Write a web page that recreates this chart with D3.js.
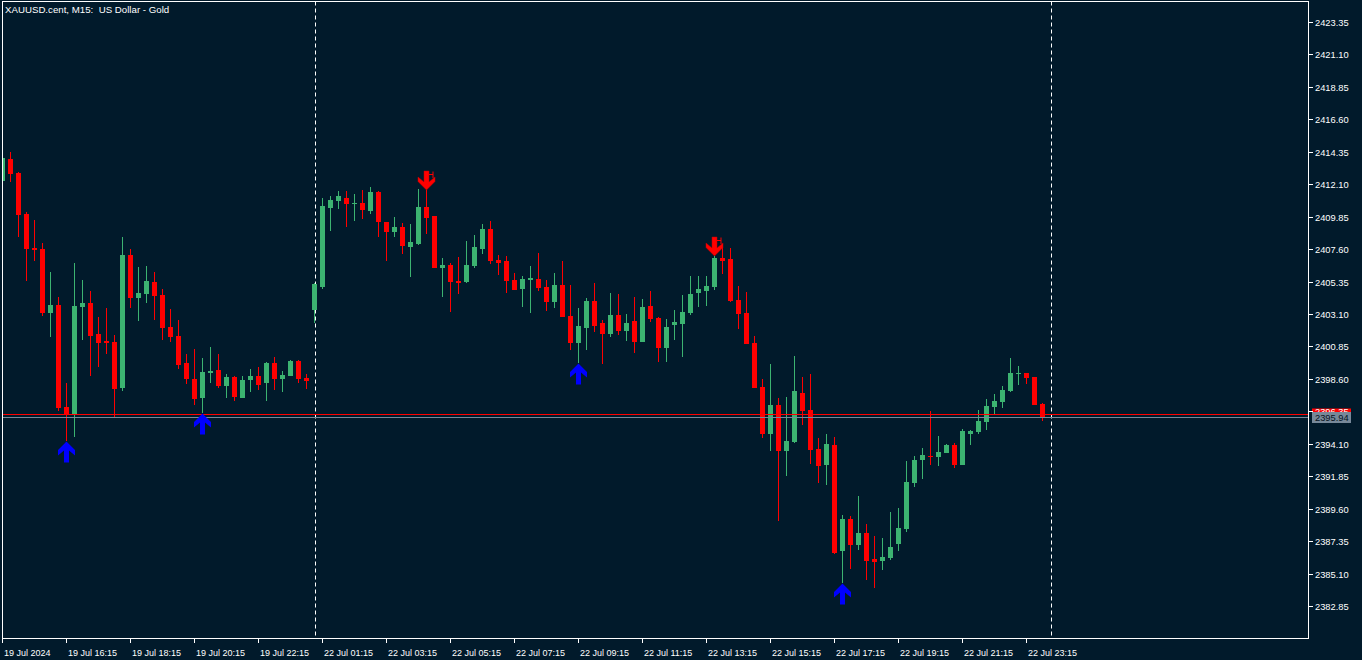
<!DOCTYPE html>
<html><head><meta charset="utf-8">
<script src="https://cdn.jsdelivr.net/npm/d3@7"></script>
<style>
html,body{margin:0;padding:0;background:#011a2b;overflow:hidden}
svg{display:block}
text{font-family:"Liberation Sans",Arial,sans-serif;fill:#ffffff}
</style>
</head><body><svg id="c" width="1362" height="660"></svg>
<script>
const title = "XAUUSD.cent, M15:  US Dollar - Gold";
const times = [
"19.07 14:15","19.07 14:30","19.07 14:45","19.07 15:00","19.07 15:15","19.07 15:30","19.07 15:45","19.07 16:00",
"19.07 16:15","19.07 16:30","19.07 16:45","19.07 17:00","19.07 17:15","19.07 17:30","19.07 17:45","19.07 18:00",
"19.07 18:15","19.07 18:30","19.07 18:45","19.07 19:00","19.07 19:15","19.07 19:30","19.07 19:45","19.07 20:00",
"19.07 20:15","19.07 20:30","19.07 20:45","19.07 21:00","19.07 21:15","19.07 21:30","19.07 21:45","19.07 22:00",
"19.07 22:15","19.07 22:30","19.07 22:45","19.07 23:00","19.07 23:15","19.07 23:30","19.07 23:45",
"22.07 01:00","22.07 01:15","22.07 01:30","22.07 01:45","22.07 02:00","22.07 02:15","22.07 02:30","22.07 02:45",
"22.07 03:00","22.07 03:15","22.07 03:30","22.07 03:45","22.07 04:00","22.07 04:15","22.07 04:30","22.07 04:45",
"22.07 05:00","22.07 05:15","22.07 05:30","22.07 05:45","22.07 06:00","22.07 06:15","22.07 06:30","22.07 06:45",
"22.07 07:00","22.07 07:15","22.07 07:30","22.07 07:45","22.07 08:00","22.07 08:15","22.07 08:30","22.07 08:45",
"22.07 09:00","22.07 09:15","22.07 09:30","22.07 09:45","22.07 10:00","22.07 10:15","22.07 10:30","22.07 10:45",
"22.07 11:00","22.07 11:15","22.07 11:30","22.07 11:45","22.07 12:00","22.07 12:15","22.07 12:30","22.07 12:45",
"22.07 13:00","22.07 13:15","22.07 13:30","22.07 13:45","22.07 14:00","22.07 14:15","22.07 14:30","22.07 14:45",
"22.07 15:00","22.07 15:15","22.07 15:30","22.07 15:45","22.07 16:00","22.07 16:15","22.07 16:30","22.07 16:45",
"22.07 17:00","22.07 17:15","22.07 17:30","22.07 17:45","22.07 18:00","22.07 18:15","22.07 18:30","22.07 18:45",
"22.07 19:00","22.07 19:15","22.07 19:30","22.07 19:45","22.07 20:00","22.07 20:15","22.07 20:30","22.07 20:45",
"22.07 21:00","22.07 21:15","22.07 21:30","22.07 21:45","22.07 22:00","22.07 22:15","22.07 22:30","22.07 22:45",
"22.07 23:00","22.07 23:15","22.07 23:30","22.07 23:45"];

const open = [2412.34,2413.85,2412.88,2410.03,2407.68,2407.61,2403.19,2403.73,2396.65,2396.15,
2403.59,2403.86,2401.71,2401.23,2401.16,2397.97,2407.19,2404.23,2404.51,2405.32,
2404.42,2402.20,2401.58,2399.70,2398.59,2397.30,2399.03,2399.22,2398.13,2398.73,
2397.30,2398.55,2398.80,2398.34,2399.70,2398.61,2398.82,2399.84,2398.66,2403.40,
2404.99,2410.47,2410.96,2411.14,2410.73,2410.80,2410.26,2411.56,2409.46,2408.81,
2409.13,2407.77,2407.96,2410.52,2409.90,2406.31,2406.50,2405.41,2405.34,2406.43,
2407.63,2409.00,2406.85,2406.78,2405.46,2404.83,2405.46,2405.53,2404.97,2403.95,
2405.11,2402.96,2401.11,2402.15,2404.00,2402.48,2401.73,2403.03,2401.94,2402.62,
2401.18,2403.66,2402.82,2400.76,2402.36,2402.43,2403.19,2404.58,2404.72,2404.99,
2406.98,2406.91,2404.07,2403.17,2401.09,2398.04,2394.80,2396.79,2393.62,2394.24,
2397.62,2396.44,2393.74,2392.65,2394.02,2386.69,2388.88,2387.10,2387.91,2386.11,
2385.97,2386.18,2387.15,2388.19,2391.38,2392.98,2393.25,2393.18,2393.46,2394.02,
2392.63,2394.78,2394.92,2395.61,2396.65,2397.00,2397.76,2398.94,2399.01,2398.73,
2396.86];
const high = [2414.20,2414.36,2412.95,2410.17,2409.62,2408.02,2406.01,2404.28,2398.34,2406.66,
2405.46,2404.72,2402.89,2403.52,2401.64,2408.44,2407.61,2406.36,2406.43,2406.01,
2404.83,2403.45,2402.69,2400.33,2400.67,2400.05,2400.81,2400.33,2398.94,2398.82,
2398.82,2399.29,2399.45,2399.77,2400.12,2399.15,2399.91,2399.91,2398.94,2405.25,
2411.14,2411.28,2411.63,2411.63,2411.42,2411.70,2411.91,2411.63,2409.46,2409.83,
2409.41,2409.34,2411.77,2411.70,2409.90,2406.98,2406.64,2407.05,2408.16,2408.58,
2409.34,2409.55,2407.19,2407.12,2405.94,2405.74,2406.43,2407.33,2405.46,2405.94,
2406.78,2405.11,2403.54,2404.21,2405.25,2402.69,2404.56,2404.49,2403.10,2404.28,
2404.14,2404.70,2402.91,2402.75,2403.38,2404.42,2405.74,2405.74,2405.74,2407.12,
2407.89,2407.68,2405.04,2404.63,2401.58,2398.59,2399.63,2397.28,2397.35,2400.19,
2398.73,2398.94,2394.50,2394.78,2394.57,2389.16,2389.09,2390.48,2388.54,2387.71,
2387.57,2389.37,2389.65,2392.91,2393.25,2393.81,2396.37,2394.64,2394.09,2394.15,
2395.13,2395.06,2396.44,2397.21,2397.55,2398.11,2400.05,2399.50,2399.01,2398.73,
2396.93];
const low = [2412.25,2412.28,2408.46,2405.41,2406.80,2402.98,2401.53,2396.39,2394.30,2394.59,
2401.30,2398.82,2399.45,2400.33,2395.98,2397.78,2403.54,2402.64,2403.88,2402.71,
2401.32,2401.18,2399.31,2398.27,2396.81,2396.25,2398.34,2397.99,2397.30,2397.09,
2397.30,2397.69,2397.85,2397.09,2397.85,2397.71,2398.82,2398.34,2397.92,2402.50,
2404.81,2408.88,2410.40,2409.15,2409.57,2409.71,2410.06,2408.46,2406.80,2408.46,
2407.28,2405.69,2407.89,2408.65,2406.29,2404.28,2403.26,2404.51,2405.27,2406.29,
2407.26,2406.57,2405.81,2404.56,2404.79,2403.59,2403.17,2404.70,2403.33,2403.54,
2402.91,2400.63,2399.68,2400.63,2401.88,2399.65,2401.53,2401.66,2401.25,2400.42,
2401.18,2402.57,2399.79,2399.79,2401.32,2400.14,2403.05,2403.61,2403.68,2404.79,
2405.89,2403.95,2402.08,2401.04,2397.99,2394.52,2393.62,2388.77,2391.89,2394.17,
2395.42,2392.72,2391.40,2391.26,2386.48,2384.43,2385.44,2386.76,2384.68,2384.12,
2385.35,2386.04,2386.67,2387.98,2391.10,2391.66,2392.63,2392.56,2393.46,2392.42,
2392.63,2394.02,2394.78,2395.06,2396.17,2396.58,2397.69,2398.18,2398.25,2396.79,
2395.68];
const close = [2413.94,2412.81,2409.99,2407.63,2407.54,2403.19,2403.73,2396.58,2396.15,2403.66,
2403.86,2401.58,2401.11,2401.11,2397.92,2407.19,2404.23,2404.56,2405.39,2404.37,
2402.15,2401.53,2399.59,2398.61,2397.23,2399.08,2399.15,2398.13,2398.73,2397.37,
2398.52,2398.80,2398.20,2399.70,2398.61,2398.87,2399.84,2398.61,2398.48,2405.18,
2410.59,2411.01,2411.28,2410.75,2410.80,2410.33,2411.56,2409.46,2408.81,2409.13,
2407.84,2408.09,2410.52,2409.78,2406.31,2406.52,2405.34,2405.27,2406.50,2407.75,
2409.00,2406.78,2406.64,2405.39,2404.79,2405.53,2405.60,2404.92,2403.95,2405.11,
2402.91,2401.11,2402.27,2404.00,2402.29,2401.73,2403.03,2401.94,2402.48,2401.18,
2403.59,2402.78,2400.76,2402.20,2402.55,2403.24,2404.49,2404.83,2405.04,2406.98,
2406.80,2404.00,2403.12,2401.04,2397.99,2394.80,2396.79,2393.62,2394.29,2397.76,
2396.39,2393.69,2392.58,2394.09,2386.55,2388.88,2387.10,2387.91,2385.99,2385.92,
2386.25,2386.94,2388.26,2391.45,2392.98,2393.32,2393.18,2393.53,2394.02,2392.63,
2394.99,2394.99,2395.68,2396.72,2397.07,2397.83,2399.01,2399.01,2398.66,2396.79,
2395.94];

const buySignals = ["19.07 16:15","19.07 20:30","22.07 09:15","22.07 17:30"];
const sellSignals = ["22.07 04:30","22.07 13:30"];
const daySeparators = ["22.07 01:00","23.07 00:00"];

const priceTicks = [2382.85,2385.10,2387.35,2389.60,2391.85,2394.10,2396.35,2398.60,2400.85,
2403.10,2405.35,2407.60,2409.85,2412.10,2414.35,2416.60,2418.85,2421.10,2423.35];
const timeTickAt = ["19.07 14:15","19.07 16:15","19.07 18:15","19.07 20:15","19.07 22:15",
"22.07 01:15","22.07 03:15","22.07 05:15","22.07 07:15","22.07 09:15","22.07 11:15",
"22.07 13:15","22.07 15:15","22.07 17:15","22.07 19:15","22.07 21:15","22.07 23:15"];
const timeTickLabels = ["19 Jul 2024","19 Jul 16:15","19 Jul 18:15","19 Jul 20:15","19 Jul 22:15",
"22 Jul 01:15","22 Jul 03:15","22 Jul 05:15","22 Jul 07:15","22 Jul 09:15","22 Jul 11:15",
"22 Jul 13:15","22 Jul 15:15","22 Jul 17:15","22 Jul 19:15","22 Jul 21:15","22 Jul 23:15"];

const bidPrice = 2395.94;
const askPrice = 2396.15;

// ---------- layout ----------
const W = 1362, H = 660;
const plotLeft = 2, plotRight = 1308, plotTop = 1.5, plotBottom = 638;
const barStep = 8;
const bullColor = "#3cb371", bearColor = "#ff0000";

const svg = d3.select("#c");
svg.append("rect").attr("width", W).attr("height", H).attr("fill", "#011a2b");

const idx = t => {
  const i = times.indexOf(t);
  return i >= 0 ? i : times.length;
};

const x = d3.scaleLinear()
  .domain([0, (plotRight - plotLeft) / barStep])
  .range([plotLeft + 0.5, plotRight + 0.5]);
const y = d3.scaleLinear()
  .domain([2380.63, 2424.74])
  .range([plotBottom, 2]);

const defs = svg.append("defs");
defs.append("clipPath").attr("id", "plotclip")
  .append("rect").attr("x", plotLeft).attr("y", plotTop)
  .attr("width", plotRight - plotLeft).attr("height", plotBottom - plotTop);

const plot = svg.append("g").attr("clip-path", "url(#plotclip)");

// day separators
plot.selectAll("line.sep").data(daySeparators).enter().append("line")
  .attr("class", "sep")
  .attr("x1", d => Math.round(x(idx(d))) + 0.5).attr("x2", d => Math.round(x(idx(d))) + 0.5)
  .attr("y1", plotTop).attr("y2", plotBottom)
  .attr("stroke", "#ffffff").attr("stroke-width", 1).attr("stroke-dasharray", "4,3");

// candles
const bars = times.map((t, i) => ({t, i, o: open[i], h: high[i], l: low[i], c: close[i]}));
const cg = plot.append("g");
const px = v => Math.round(y(v));
cg.selectAll("line.wick").data(bars).enter().append("line")
  .attr("x1", d => Math.floor(x(d.i)) + 0.5).attr("x2", d => Math.floor(x(d.i)) + 0.5)
  .attr("y1", d => px(d.h)).attr("y2", d => Math.max(px(d.l), px(d.h) + 1))
  .attr("stroke", d => d.c >= d.o ? bullColor : bearColor).attr("stroke-width", 1);
cg.selectAll("rect.body").data(bars).enter().append("rect")
  .attr("x", d => Math.floor(x(d.i)) - 2).attr("width", 5)
  .attr("y", d => px(Math.max(d.o, d.c)))
  .attr("height", d => Math.max(1, px(Math.min(d.o, d.c)) - px(Math.max(d.o, d.c))))
  .attr("fill", d => d.c >= d.o ? bullColor : bearColor);

// bid / ask lines
plot.append("line").attr("x1", plotLeft).attr("x2", plotRight)
  .attr("y1", px(askPrice) + 0.5).attr("y2", px(askPrice) + 0.5)
  .attr("stroke", "#ff0000").attr("stroke-width", 1);
plot.append("line").attr("x1", plotLeft).attr("x2", plotRight)
  .attr("y1", px(bidPrice) + 0.5).attr("y2", px(bidPrice) + 0.5)
  .attr("stroke", "#778899").attr("stroke-width", 1);

// signal arrows
const upPath = "M0,0 L8.5,8.5 L8.5,14 L2.5,9 L2.5,21 L-2.5,21 L-2.5,9 L-8.5,14 L-8.5,8.5 Z";
const downPath = "M0,0 L8.5,-8.5 L8.5,-13 L2.5,-8 L2.5,-19 L-2.5,-19 L-2.5,-8 L-8.5,-13 L-8.5,-8.5 Z";
plot.selectAll("path.buy").data(buySignals).enter().append("path")
  .attr("d", upPath)
  .attr("transform", d => `translate(${Math.floor(x(idx(d))) + 0.5},${px(low[idx(d)]) + 0.5})`)
  .attr("fill", "#0000ff");
const sg = plot.selectAll("g.sell").data(sellSignals).enter().append("g")
  .attr("transform", d => `translate(${Math.floor(x(idx(d))) + 0.5},${px(high[idx(d)])})`);
sg.append("path").attr("d", downPath).attr("fill", "#ff0000").attr("stroke", "#c00000").attr("stroke-width", 0.5);
sg.append("path").attr("d", "M2.5,-15.5 L6.5,-15.5 M6.5,-18.5 L6.5,-12")
  .attr("stroke", "#ff0000").attr("stroke-width", 1).attr("fill", "none");

// frame
svg.append("rect").attr("x", plotLeft + 0.5).attr("y", plotTop)
  .attr("width", plotRight - plotLeft).attr("height", plotBottom - plotTop + 0.5)
  .attr("fill", "none").attr("stroke", "#ffffff").attr("stroke-width", 1);

// price axis
const ya = svg.append("g");
ya.selectAll("line").data(priceTicks).enter().append("line")
  .attr("x1", plotRight + 0.5).attr("x2", plotRight + 5)
  .attr("y1", d => px(d) + 0.5).attr("y2", d => px(d) + 0.5)
  .attr("stroke", "#ffffff");
const lblX = plotRight + 4, lblW = 39, lblH = 11;
svg.append("rect").attr("x", lblX).attr("y", px(askPrice) - 5.5)
  .attr("width", lblW).attr("height", lblH).attr("fill", "#ff0000");
ya.raise();
ya.selectAll("text").data(priceTicks).enter().append("text")
  .attr("x", plotRight + 7).attr("y", d => px(d) + 3.5)
  .attr("font-size", "9.3px").text(d => d.toFixed(2));
// bid label
svg.append("rect").attr("x", lblX).attr("y", px(bidPrice) - 5)
  .attr("width", lblW).attr("height", lblH).attr("fill", "#778899");
svg.append("text").attr("x", plotRight + 7).attr("y", px(bidPrice) + 4)
  .attr("font-size", "9.3px").style("fill", "#06121e").text(bidPrice.toFixed(2));

// time axis
const xa = svg.append("g");
const tickIdx = timeTickAt.map(idx);
xa.selectAll("line").data(tickIdx).enter().append("line")
  .attr("x1", d => Math.floor(x(d)) + 0.5).attr("x2", d => Math.floor(x(d)) + 0.5)
  .attr("y1", plotBottom).attr("y2", plotBottom + 5)
  .attr("stroke", "#ffffff");
xa.selectAll("text").data(tickIdx).enter().append("text")
  .attr("x", d => Math.floor(x(d)) + 2).attr("y", 656)
  .attr("font-size", "9px").text((d, i) => timeTickLabels[i]);

// title
svg.append("text").attr("x", 5).attr("y", 13).attr("font-size", "9.7px")
  .style("white-space", "pre").text(title);
</script>
</body></html>
